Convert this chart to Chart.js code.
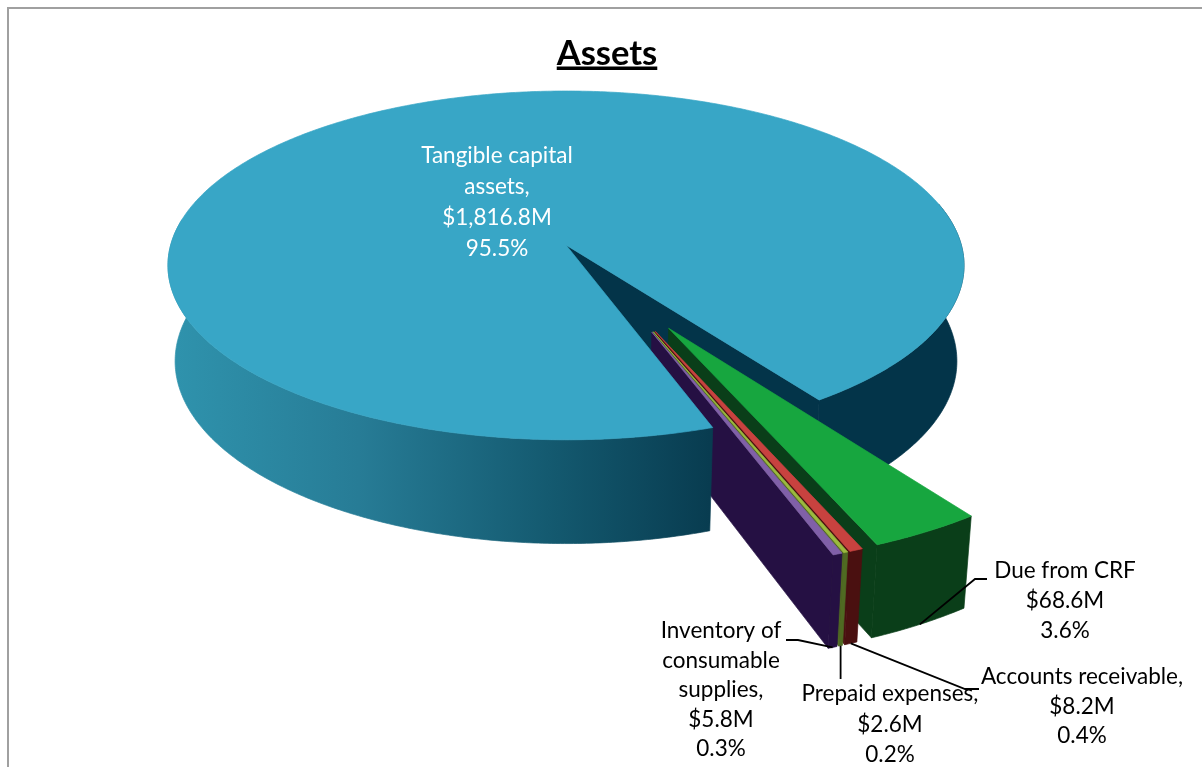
<!DOCTYPE html>
<html lang="en">
<head>
    <meta charset="UTF-8">
    <title>Assets</title>
    <script src="https://cdn.jsdelivr.net/npm/chart.js"></script>
    <style>
        html, body { margin: 0; padding: 0; background: #fff; overflow: hidden; }
        canvas { display: block; }
    </style>
</head>
<body>
    <canvas id="assetsChart" width="1202" height="767"></canvas>
    <script>
        const categories = ['Due from CRF', 'Accounts receivable', 'Prepaid expenses', 'Inventory of consumable supplies', 'Tangible capital assets'];
        const amounts = [68.6, 8.2, 2.6, 5.8, 1816.8];
        const percents = ['3.6%', '0.4%', '0.2%', '0.3%', '95.5%'];
        const labelLines = [
            ['Due from CRF'],
            ['Accounts receivable,'],
            ['Prepaid expenses,'],
            ['Inventory of', 'consumable', 'supplies,'],
            ['Tangible capital', 'assets,']
        ];

        const topColors = ['#17a63f', '#c8423f', '#9bbb3f', '#8060a8', '#38a6c6'];
        const sideColors = ['#0a3e19', '#4a1010', '#4f6a22', '#251043', '#033449'];

        // perspective used to lay the pie on its side
        const view = { cx: 566, cy: 245, ax: 395.3, by: 172, cz: 97, p: 0.117, q: 0.018 };
        const explode = 0.52;
        const pulledRadius = 1.07;
        const pulledDepth = 0.86;
        const fanSpread = 0.55;

        // label anchor and leader line for each slice, a null x drops straight down
        const labelSpots = [
            { x: 1065, y: 571, step: 30, leader: [[975, 579], [987, 579]] },
            { x: 1082, y: 677, step: 29.5, leader: [[965, 689], [979, 689]] },
            { x: 890, y: 694, step: 30.5, leader: [[null, 679]] },
            { x: 721, y: 631, step: 29.5, leader: [[798, 640], [786, 640]] },
            { x: 497, y: 156, step: 31, color: '#fff' }
        ];

        function project(px, py, z) {
            const w = 1 - view.p * py + view.q * z;
            return [view.cx + view.ax * px / w, view.cy + (view.by * py + view.cz * z) / w];
        }

        // outline of one arc, angles in radians, in the pie's own plane
        function arcPoints(s, from, to, z) {
            const pts = [];
            const n = Math.max(2, Math.ceil(Math.abs(to - from) / 0.01));
            for (let i = 0; i <= n; i++) {
                const a = from + (to - from) * i / n;
                pts.push(project(s.ox + s.r * Math.cos(a), s.oy + s.r * Math.sin(a), z * s.h));
            }
            return pts;
        }

        function fillPoly(ctx, pts, fill) {
            ctx.beginPath();
            pts.forEach((p, i) => i ? ctx.lineTo(p[0], p[1]) : ctx.moveTo(p[0], p[1]));
            ctx.closePath();
            ctx.fillStyle = fill;
            ctx.strokeStyle = fill;
            ctx.lineWidth = 0.7;
            ctx.fill();
            ctx.stroke();
        }

        function drawWall(ctx, s, from, to, fill) {
            fillPoly(ctx, arcPoints(s, from, to, 0).concat(arcPoints(s, to, from, 1)), fill);
        }

        function drawEdge(ctx, s, a, fill) {
            const ex = s.ox + s.r * Math.cos(a), ey = s.oy + s.r * Math.sin(a);
            fillPoly(ctx, [project(s.ox, s.oy, 0), project(ex, ey, 0), project(ex, ey, s.h), project(s.ox, s.oy, s.h)], fill);
        }

        function drawTop(ctx, s, from, to, fill) {
            fillPoly(ctx, [project(s.ox, s.oy, 0)].concat(arcPoints(s, from, to, 0)), fill);
        }

        // small slices are pulled out as a fan around the middle of their group
        function pulledSlice(arcs, i) {
            const arc = arcs[i];
            const mid = (arc.startAngle + arc.endAngle) / 2;
            const groupMid = (arcs[0].startAngle + arcs[arcs.length - 2].endAngle) / 2;
            const dir = groupMid + fanSpread * (mid - groupMid);
            return { ox: explode * Math.cos(dir), oy: explode * Math.sin(dir), r: pulledRadius, h: pulledDepth, mid: mid };
        }

        const pie3d = {
            id: 'pie3d',
            beforeDatasetsDraw(chart) {
                const ctx = chart.ctx;
                const arcs = chart.getDatasetMeta(0).data;
                const main = arcs.length - 1;
                const s = arcs[main].startAngle, e = arcs[main].endAngle;
                const whole = { ox: 0, oy: 0, r: 1, h: 1 };

                // far side of the big slice, behind everything else
                drawEdge(ctx, whole, e, sideColors[main]);
                drawWall(ctx, whole, e - 1.2, e, sideColors[main]);

                arcs.slice(0, main).forEach((arc, i) => {
                    const slice = pulledSlice(arcs, i);
                    drawEdge(ctx, slice, arc.endAngle, sideColors[i]);
                    drawWall(ctx, slice, arc.startAngle, arc.endAngle, sideColors[i]);
                    drawTop(ctx, slice, arc.startAngle, arc.endAngle, topColors[i]);
                });

                // near side of the big slice, shaded from left to right
                const grad = ctx.createLinearGradient(170, 0, 710, 0);
                grad.addColorStop(0, '#2f93ad');
                grad.addColorStop(0.35, '#277c96');
                grad.addColorStop(0.7, '#145a70');
                grad.addColorStop(1, '#083c50');
                drawWall(ctx, whole, s, Math.PI + 0.15, grad);
                drawTop(ctx, whole, s, e, topColors[main]);
                return false;
            },
            afterDraw(chart) {
                const ctx = chart.ctx;
                ctx.save();

                // chart frame, open on the right and at the bottom
                ctx.strokeStyle = '#a0a0a0';
                ctx.lineWidth = 2;
                ctx.beginPath();
                ctx.moveTo(8, 767);
                ctx.lineTo(8, 8);
                ctx.lineTo(1202, 8);
                ctx.stroke();

                // title underline
                const t = chart.titleBlock;
                ctx.font = t.options.font.weight + ' ' + t.options.font.size + 'px ' + t.options.font.family;
                const tw = ctx.measureText(chart.options.plugins.title.text).width;
                ctx.fillStyle = '#000';
                ctx.fillRect(607 - tw / 2, 66.5, tw, 3.5);

                // leaders run from the outer foot of each small slice
                const arcs = chart.getDatasetMeta(0).data;
                ctx.strokeStyle = '#000';
                ctx.lineWidth = 1.8;
                labelSpots.forEach((spot, i) => {
                    if (!spot.leader) return;
                    const sl = pulledSlice(arcs, i);
                    const foot = project(sl.ox + sl.r * Math.cos(sl.mid), sl.oy + sl.r * Math.sin(sl.mid), sl.h);
                    ctx.beginPath();
                    ctx.moveTo(foot[0], foot[1]);
                    spot.leader.forEach(p => ctx.lineTo(p[0] === null ? foot[0] : p[0], p[1]));
                    ctx.stroke();
                });

                // name, amount and share of each slice
                ctx.font = '22.5px Lato';
                ctx.textAlign = 'center';
                ctx.textBaseline = 'middle';
                labelSpots.forEach((spot, i) => {
                    const lines = labelLines[i].concat('$' + amounts[i].toLocaleString('en-US', { minimumFractionDigits: 1 }) + 'M', percents[i]);
                    ctx.fillStyle = spot.color || '#000';
                    lines.forEach((line, j) => ctx.fillText(line, spot.x, spot.y + j * spot.step));
                });
                ctx.restore();
            }
        };

        new Chart(document.getElementById('assetsChart').getContext('2d'), {
            type: 'pie',
            data: {
                labels: categories,
                datasets: [{ data: amounts, backgroundColor: topColors, borderWidth: 0 }]
            },
            options: {
                responsive: false,
                animation: false,
                rotation: 144.6,
                layout: { padding: { left: 12 } },
                plugins: {
                    legend: { display: false },
                    tooltip: { enabled: false },
                    title: {
                        display: true,
                        text: 'Assets',
                        color: '#000',
                        font: { family: 'Lato', size: 34.5, weight: 'bold' },
                        padding: { top: 33, bottom: 10 }
                    }
                }
            },
            plugins: [pie3d]
        });
    </script>
</body>
</html>
